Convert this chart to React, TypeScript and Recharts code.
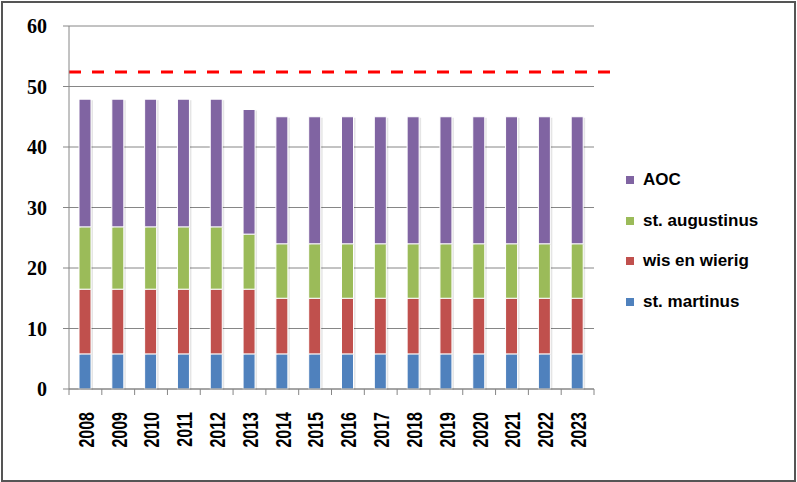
import React from 'react';
import { BarChart, Bar, XAxis, YAxis, CartesianGrid, ReferenceLine, Legend } from 'recharts';

const years = ['2008', '2009', '2010', '2011', '2012', '2013', '2014', '2015', '2016', '2017', '2018', '2019', '2020', '2021', '2022', '2023'];
const stMartinus = [5.8, 5.8, 5.8, 5.8, 5.8, 5.8, 5.8, 5.8, 5.8, 5.8, 5.8, 5.8, 5.8, 5.8, 5.8, 5.8];
const wisEnWierig = [10.7, 10.7, 10.7, 10.7, 10.7, 10.7, 9.2, 9.2, 9.2, 9.2, 9.2, 9.2, 9.2, 9.2, 9.2, 9.2];
const stAugustinus = [10.3, 10.3, 10.3, 10.3, 10.3, 9.1, 9, 9, 9, 9, 9, 9, 9, 9, 9, 9];
const aoc = [21.1, 21.1, 21.1, 21.1, 21.1, 20.6, 21, 21, 21, 21, 21, 21, 21, 21, 21, 21];
const yTicks = [0, 10, 20, 30, 40, 50, 60];
const normLine = 52.4;

const seriesNames = ['st. martinus', 'wis en wierig', 'st. augustinus', 'AOC'];
const seriesColors = ['#4F81BD', '#C0504D', '#9BBB59', '#8064A2'];

const data = years.map((y, i) => ({
  year: y,
  s0: stMartinus[i],
  s1: wisEnWierig[i],
  s2: stAugustinus[i],
  s3: aoc[i],
}));

const GRID = '#868686';

const XTick = (props: any) => {
  const { x, y, payload, index } = props;
  const half = payload && payload.offset ? payload.offset : 0;
  return (
    <g>
      <line x1={x - half} y1={y - 8} x2={x - half} y2={y - 2} stroke={GRID} strokeWidth={1} />
      {index === years.length - 1 && (
        <line x1={x + half} y1={y - 8} x2={x + half} y2={y - 2} stroke={GRID} strokeWidth={1} />
      )}
      <g transform={`translate(${x + 1},${y + 15}) rotate(-90) scale(1,1.35)`}>
        <text x={0} y={0} textAnchor="end" dominantBaseline="central" fontFamily="Liberation Sans" fontWeight="bold" fontSize={16} fill="#000">
          {payload.value}
        </text>
      </g>
    </g>
  );
};

const BarShape = (props: any) => {
  const { x, y, width, height, fill } = props;
  if (!height || height <= 0) return null;
  return (
    <g>
      <rect x={x + 2} y={y + 1} width={width} height={height} fill="rgba(0,0,0,0.10)" />
      <rect x={x} y={y} width={width} height={height} fill={fill} stroke="#fff" strokeWidth={1} />
    </g>
  );
};

const NormShape = (props: any) => {
  const { x1, y1, x2 } = props;
  return <line x1={x1} y1={y1} x2={x2 + 18} y2={y1} stroke="#FF0000" strokeWidth={3} strokeDasharray="12 11" />;
};

const LegendContent = () => (
  <div style={{ fontFamily: 'Liberation Sans', fontWeight: 'bold', fontSize: 17, color: '#000' }}>
    {[3, 2, 1, 0].map((i) => (
      <div key={i} style={{ display: 'flex', alignItems: 'center', height: 40.5 }}>
        <span style={{ display: 'inline-block', width: 8, height: 8, background: seriesColors[i], marginRight: 9 }} />
        <span>{seriesNames[i]}</span>
      </div>
    ))}
  </div>
);

export default function App() {
  return (
    <div style={{ position: 'absolute', left: 0, top: 0, width: 797, height: 482, background: '#fff' }}>
      <div style={{ position: 'absolute', left: 1, top: 1, width: 791, height: 477, border: '2px solid #555' }} />
      <div style={{ position: 'absolute', left: 0, top: 0 }}>
        <BarChart width={797} height={482} data={data} margin={{ top: 26, right: 33, bottom: 0, left: 0 }} barSize={12}>
          <CartesianGrid horizontal vertical={false} stroke={GRID} strokeWidth={1} />
          <XAxis dataKey="year" height={93} axisLine={{ stroke: GRID }} tickLine={false} tick={<XTick />} interval={0} />
          <YAxis
            width={69}
            domain={[0, 60]}
            ticks={yTicks}
            interval={0}
            axisLine={{ stroke: GRID }}
            tickLine={{ stroke: GRID }}
            tickSize={6}
            tickMargin={16}
            tick={{ fontFamily: 'Liberation Serif', fontWeight: 'bold', fontSize: 20, fill: '#000' }}
          />
          {['s0', 's1', 's2', 's3'].map((k, i) => (
            <Bar key={k} dataKey={k} name={seriesNames[i]} stackId="a" fill={seriesColors[i]} isAnimationActive={false} shape={<BarShape />} />
          ))}
          <ReferenceLine y={normLine} shape={<NormShape />} />
          <Legend layout="horizontal" verticalAlign="middle" align="right" content={<LegendContent />} wrapperStyle={{ left: 626, top: 160, width: 170 }} />
        </BarChart>
      </div>
    </div>
  );
}
